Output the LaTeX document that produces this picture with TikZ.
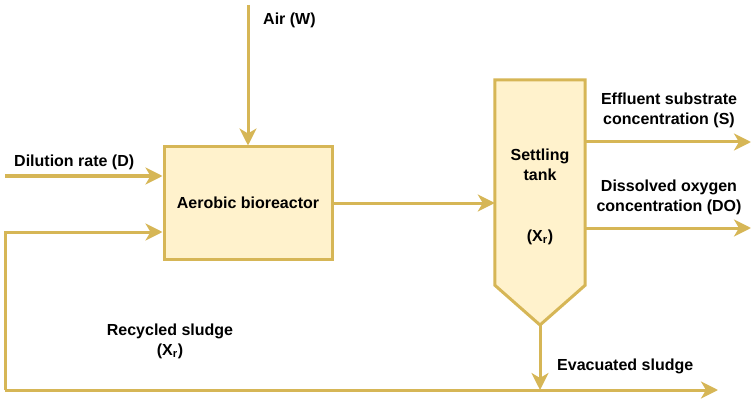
\documentclass[tikz,border=0pt]{standalone}
\usepackage{fontspec}
\setmainfont{Liberation Sans}
\usetikzlibrary{arrows.meta}
\definecolor{goldline}{HTML}{D6B656}
\definecolor{goldfill}{HTML}{FFF2CC}
\tikzset{
  flow/.style={draw=goldline, line width=3pt, -{Stealth[length=17pt,width=17pt,inset=5pt]}},
  box/.style={draw=goldline, fill=goldfill, line width=3pt, rectangle},
  lbl/.style={inner sep=0pt, align=center, text=black}
}
\begin{document}
\begin{tikzpicture}[x=1pt,y=-1pt, font=\fontsize{16}{20}\selectfont\bfseries]
\useasboundingbox (0,0) rectangle (754,406);
% bioreactor
\node[box, minimum width=168pt, minimum height=112pt] (bio) at (248,203) {Aerobic bioreactor};
% settling tank
\node[minimum width=90pt, minimum height=205pt, inner sep=0pt] (tank) at (540,182.5) {};
\coordinate (tkbot) at (540,325);
\draw[box] (tank.north west) -- (tank.north east) -- (tank.south east) -- (tkbot) -- (tank.south west) -- cycle;
\node[lbl] (tanktxt) at (540,165) {Settling\\tank};
\node[lbl] (tankx) at (540,237) {(X\textsubscript{r})};
% inputs
\coordinate (airsrc) at (248,5);
\draw[flow] (airsrc) -- (bio.north);
\node[lbl, anchor=west] (airlbl) at (263,20) {Air (W)};
\coordinate (dsrc) at (5,176);
\draw[flow] (dsrc) -- (dsrc -| bio.west);
\node[lbl, anchor=west] (dlbl) at (14,162) {Dilution rate (D)};
% recycle loop
\coordinate (rcorner) at (5,390);
\coordinate (rtop) at (5,232);
\draw[flow] (rcorner) -- (rtop) -- (rtop -| bio.west);
\coordinate (bend) at (718,390);
\draw[flow] (rcorner) -- (bend);
\node[lbl] (rlbl) at (170,341) {Recycled sludge\\(X\textsubscript{r})};
% bio -> tank
\draw[flow] (bio.east) -- (bio.east -| tank.west);
% evacuated
\draw[flow] (tkbot) -- (tkbot |- rcorner);
\node[lbl, anchor=west] (elbl) at (557,366) {Evacuated sludge};
% outputs
\coordinate (o1) at (585,142);
\coordinate (o1e) at (751,142);
\draw[flow] (o1) -- (o1e);
\node[lbl] (o1lbl) at (669,110) {Effluent substrate\\concentration (S)};
\coordinate (o2) at (585,228);
\coordinate (o2e) at (751,228);
\draw[flow] (o2) -- (o2e);
\node[lbl] (o2lbl) at (669,197) {Dissolved oxygen\\concentration (DO)};
\end{tikzpicture}
\end{document}
